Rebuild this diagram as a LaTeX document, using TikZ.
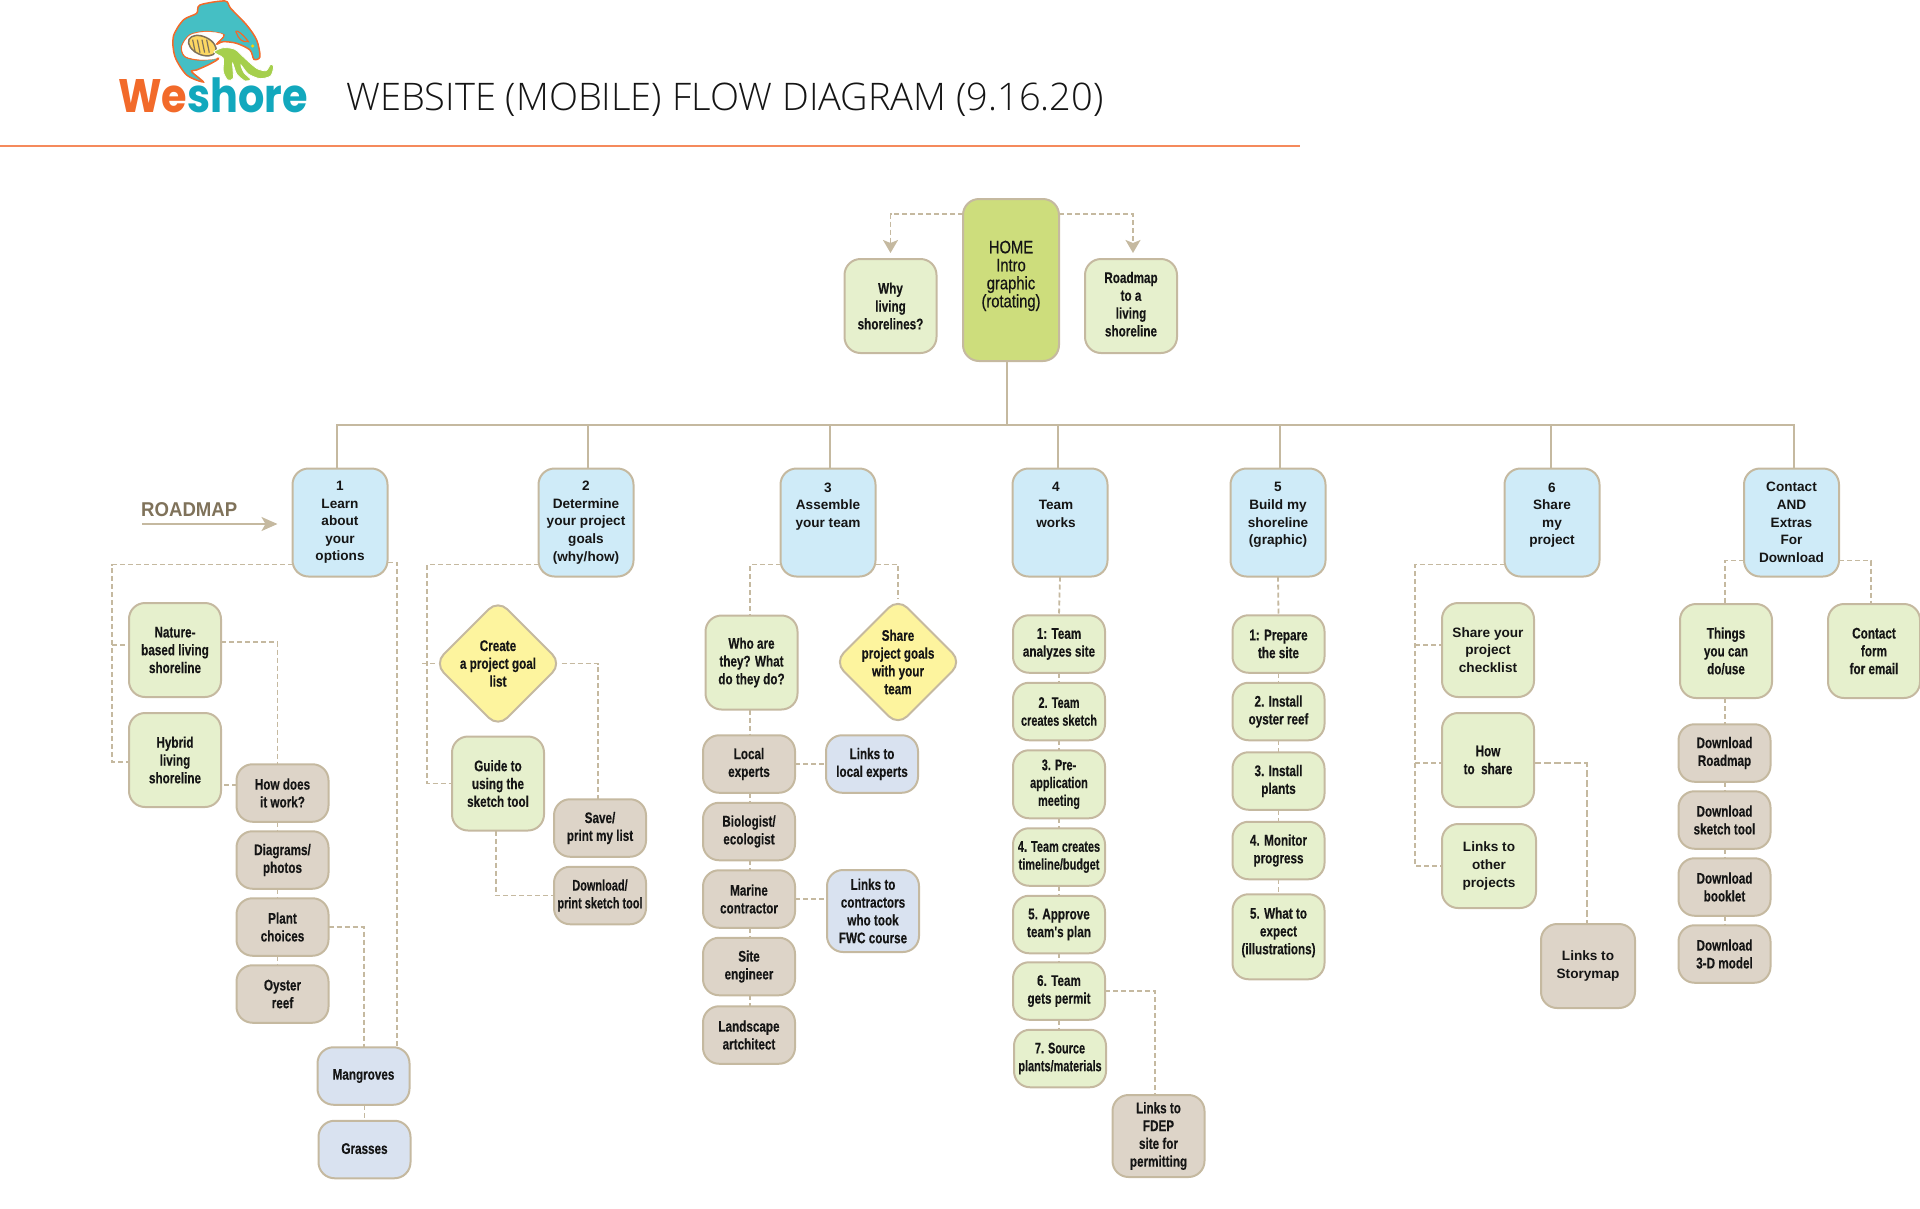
\documentclass[tikz,border=0pt]{standalone}
\usepackage{fontspec}
\usepackage{xcolor}
\usetikzlibrary{arrows.meta, positioning, shapes.geometric, backgrounds}
\setmainfont{Liberation Sans}
\newfontfamily\condfont[FakeStretch=0.76,FakeBold=0.25]{Liberation Sans Bold}
\newfontfamily\tightfont[FakeStretch=0.71,FakeBold=0.25]{Liberation Sans Bold}
\newfontfamily\widefont{Liberation Sans Bold}
\newfontfamily\homefont[FakeStretch=0.82,FakeBold=0.5]{Liberation Sans}
\newfontfamily\titlefont{Open Sans Light}
\newfontfamily\brandfont[FakeStretch=0.88]{Poppins Bold}
\newfontfamily\mapfont[FakeStretch=0.93]{Liberation Sans Bold}
\definecolor{linetan}{HTML}{C5B9A0}
\definecolor{skyfill}{HTML}{CFEBF8}
\definecolor{leaffill}{HTML}{E6F0CD}
\definecolor{homefill}{HTML}{CDDD7C}
\definecolor{sandfill}{HTML}{DDD4C8}
\definecolor{mistfill}{HTML}{D9E2F0}
\definecolor{sunfill}{HTML}{FDF49E}
\definecolor{inkblack}{HTML}{151515}
\definecolor{brandorange}{HTML}{F26A2A}
\definecolor{brandteal}{HTML}{12A8BD}
\definecolor{fishteal}{HTML}{45BFC4}
\definecolor{weedgreen}{HTML}{A5CF4C}
\definecolor{rulered}{HTML}{F58A5C}
\definecolor{maptext}{HTML}{7F725A}
\tikzset{
  flowbox/.style={rectangle, rounded corners=16pt, draw=linetan, line width=2pt,
    inner sep=0pt, outer sep=0pt, align=center, text=inkblack, minimum width=92pt,
    font=\fontsize{15.4}{17.8}\selectfont\condfont},
  widetext/.style={font=\fontsize{13.6}{17.6}\selectfont\widefont},
  tighttext/.style={font=\fontsize{15.4}{17.8}\selectfont\tightfont},
  stepblue/.style={flowbox, widetext, fill=skyfill, minimum width=95pt, minimum height=108pt},
  leafbox/.style={flowbox, fill=leaffill, minimum height=94pt},
  stepleaf/.style={flowbox, fill=leaffill, minimum height=57.5pt},
  sandbox/.style={flowbox, fill=sandfill, minimum height=57.5pt},
  mistbox/.style={flowbox, fill=mistfill, minimum height=57.5pt},
  sunbox/.style={flowbox, shape=diamond, fill=sunfill, rounded corners=13pt, inner sep=-14pt,
    minimum width=127pt, minimum height=127pt},
  treeline/.style={draw=linetan, line width=2pt},
  dashline/.style={draw=linetan, line width=1.8pt, dash pattern=on 5pt off 3pt},
  flowtip/.style={-{Stealth[length=13pt, width=15pt, inset=3pt]}},
}
\begin{document}
\begin{tikzpicture}[x=1pt, y=-1pt, node distance=9.5pt]
  \useasboundingbox (0,0) rectangle (1920,1208);

  % logo
  \begin{scope}[shift={(60,0)}, scale=0.3333]
    \draw[fill=fishteal, draw=brandorange, line width=1.5pt] plot[smooth cycle, tension=0.5] coordinates {
      (430,246) (380,225) (345,170) (340,110) (370,60) (410,40) (420,15) (495,3) (512,25)
      (560,75) (590,120) (600,170) (582,178) (570,150) (530,130) (490,125) (470,132) (492,105)
      (440,95) (390,105) (365,140) (375,170) (420,180) (475,175) (450,192) (410,210) (395,215)};
    \draw[fill=white, draw=white] plot[smooth cycle, tension=0.5] coordinates {
      (488,104) (440,96) (391,106) (367,140) (377,168) (420,178) (470,174) (460,150) (468,128)};
    \draw[fill=yellow!55!orange!60, draw=maptext, line width=1.5pt, rotate around={-25:(427,137)}]
      (427,137) ellipse (44 and 27);
    \foreach \sx in {398,412,426,440} \draw[maptext, line width=1.2pt] (\sx,119) -- (\sx+8,158);
    \draw[fill=weedgreen, draw=white, line width=0.8pt] plot[smooth cycle, tension=0.45] coordinates {
      (462,155) (490,143) (525,148) (555,175) (590,205) (618,212) (632,193) (641,200) (632,228)
      (600,236) (565,222) (543,195) (552,218) (572,238) (555,243) (530,222) (518,190) (520,235)
      (503,240) (490,215) (490,175) (475,165)};
    \draw[brandorange, line width=1.2pt] (530,100) .. controls (520,85) and (545,95) .. (565,125)
      .. controls (545,128) and (535,115) .. (530,100);
    \draw[fill=yellow!70!orange, draw=none] (578,138) circle (5);
  \end{scope}
  \node[anchor=base west, inner sep=0pt, font=\fontsize{47}{50}\selectfont\brandfont] (brand) at (118,112)
    {\textcolor{brandorange}{We}\textcolor{brandteal}{shore}};
  \node[anchor=base west, inner sep=0pt, text=inkblack, font=\fontsize{38}{42}\selectfont\titlefont] (title) at (346,110)
    {WEBSITE (MOBILE) FLOW DIAGRAM (9.16.20)};
  \coordinate (ruleleft) at (0,146);
  \coordinate (ruleright) at (1300,146);
  \draw[rulered, line width=1.5pt] (ruleleft) -- (ruleright);

  % top row
  \node[flowbox, fill=homefill, minimum width=96pt, minimum height=162pt,
    font=\fontsize{18}{18}\selectfont\homefont] (home) at (1011,280) {HOME\\Intro\\graphic\\(rotating)\\[-6pt]~};
  \node[leafbox] (why) at (890.5,306) {Why\\living\\shorelines?};
  \node[leafbox] (roadto) at (1131,306) {Roadmap\\to a\\living\\shoreline\\[-14pt]~};

  % column heads
  \node[stepblue] (learn) at (340,522.5) {1\\Learn\\about\\your\\options};
  \node[stepblue] (goals) at (586,522.5) {2\\Determine\\your project\\goals\\(why/how)};
  \node[stepblue] (team) at (828,522.5) {3\\Assemble\\your team\\~\\~};
  \node[stepblue] (works) at (1060,522.5) {\hspace*{-8pt}4\\\hspace*{-8pt}Team\\\hspace*{-8pt}works\\~\\~};
  \node[stepblue] (build) at (1278,522.5) {5\\Build my\\shoreline\\(graphic)\\~};
  \node[stepblue] (share) at (1552,522.5) {6\\Share\\my\\project\\~};
  \node[stepblue] (contact) at (1791.5,522.5) {Contact\\AND\\Extras\\For\\Download};

  % column 1
  \node[leafbox] (nature) at (175,650) {Nature-\\based living\\shoreline};
  \node[leafbox, below=16pt of nature] (hybrid) {Hybrid\\living\\shoreline};
  \node[sandbox] (howwork) at (282.5,793) {How does\\it work?};
  \node[sandbox, below=of howwork] (diagrams) {Diagrams/\\photos};
  \node[sandbox, below=of diagrams] (plantch) {Plant\\choices};
  \node[sandbox, below=of plantch] (oyster) {Oyster\\reef};
  \node[mistbox] (mangroves) at (363.5,1076) {\raisebox{-2pt}{Mangroves}};
  \node[mistbox, below=16pt of mangroves, xshift=1pt] (grasses) {\raisebox{2pt}{Grasses}};

  % column 2
  \node[sunbox] (golist) at (498,663.5) {Create\\a project goal\\list};
  \node[leafbox] (guide) at (498,783.5) {Guide to\\using the\\sketch tool};
  \node[sandbox] (savelist) at (600,828) {Save/\\print my list};
  \node[sandbox, tighttext, below=10pt of savelist] (printtool) {Download/\\print sketch tool};

  % column 3
  \node[leafbox] (whoare) at (751.5,662.5) {Who are\\they? What\\do they do?};
  \node[sunbox] (sharegoals) at (898,662) {Share\\project goals\\with your\\team};
  \node[sandbox] (local) at (749,764) {Local\\experts};
  \node[mistbox] (linklocal) at (872,764) {Links to\\local experts};
  \node[sandbox, below=10pt of local] (biologist) {Biologist/\\ecologist};
  \node[sandbox, below=10pt of biologist] (marine) {Marine\\contractor};
  \node[sandbox, below=10pt of marine] (siteeng) {Site\\engineer};
  \node[sandbox, below=11pt of siteeng] (landscape) {Landscape\\artchitect};
  \node[mistbox, minimum height=82pt] (linkfwc) at (873,911) {Links to\\contractors\\who took\\FWC course};

  % column 4
  \node[stepleaf] (analyze) at (1059,644) {1: Team\\analyzes site};
  \node[stepleaf, tighttext, below=10pt of analyze] (sketch) {2. Team\\creates sketch};
  \node[stepleaf, below=10pt of sketch, minimum height=68pt, tighttext] (preapp) {3. Pre-\\application\\meeting};
  \node[stepleaf, tighttext, below=10pt of preapp] (timeline) {4. Team creates\\timeline/budget};
  \node[stepleaf, below=10pt of timeline] (approve) {5. Approve\\team's plan};
  \node[stepleaf, below=9pt of approve] (permit) {6. Team\\gets permit};
  \node[stepleaf, tighttext, below=10pt of permit, xshift=1pt] (source) {7. Source\\plants/materials};
  \node[sandbox, minimum height=82pt] (fdep) at (1158.5,1136) {Links to\\FDEP\\site for\\permitting};

  % column 5
  \node[stepleaf] (prepare) at (1278.5,644) {1: Prepare\\the site};
  \node[stepleaf, below=10pt of prepare] (reef) {2. Install\\oyster reef};
  \node[stepleaf, below=12pt of reef] (plants) {3. Install\\plants};
  \node[stepleaf, below=12pt of plants] (monitor) {4. Monitor\\progress};
  \node[stepleaf, below=15pt of monitor, minimum height=85pt] (expect) {5. What to\\expect\\(illustrations)\\[-6pt]~};

  % column 6
  \node[leafbox, widetext] (checklist) at (1488,650) {Share your\\project\\checklist};
  \node[leafbox] (howshare) at (1488,760) {How\\to\ \ share};
  \node[leafbox, widetext, minimum height=84pt, minimum width=94pt] (linkother) at (1489,866) {Links to\\other\\projects};
  \node[sandbox, widetext, minimum height=84pt, minimum width=94pt] (storymap) at (1588,966) {Links to\\Storymap};

  % column 7
  \node[leafbox] (things) at (1726,651) {Things\\you can\\do/use};
  \node[leafbox] (form) at (1874,651) {Contact\\form\\for email};
  \node[sandbox] (dlroad) at (1724.5,753) {Download\\Roadmap};
  \node[sandbox, below=of dlroad] (dlsketch) {Download\\sketch tool};
  \node[sandbox, below=of dlsketch] (dlbook) {Download\\booklet};
  \node[sandbox, below=of dlbook] (dlmodel) {Download\\3-D model};

  % roadmap arrow
  \node[anchor=base west, inner sep=0pt, text=maptext, font=\fontsize{20}{22}\selectfont\mapfont] (maplabel) at (141,516) {ROADMAP};
  \coordinate (mapstart) at (142,524);
  \draw[treeline, -{Stealth[length=16pt, width=14pt, inset=4pt]}] (mapstart) -- ([xshift=-15pt,yshift=-1.5pt]learn.west);

  \begin{scope}[on background layer]
    % solid tree
    \coordinate (bus) at (1007,425);
    \draw[treeline] ([xshift=-4pt]home.south) -- (bus);
    \foreach \n/\dx in {learn/-3, goals/2, team/2, works/-2, build/2, share/-1, contact/2.5}
      \draw[treeline] (bus) -| ([xshift=\dx pt]\n.north);

    % home
    \draw[dashline, flowtip] ([yshift=-15pt]home.north west) -| ([yshift=6pt]why.north);
    \draw[dashline, flowtip] ([yshift=-15pt]home.north east) -| ([xshift=2pt,yshift=6pt]roadto.north);

    % column 1
    \draw[dashline] ([yshift=12pt]learn.south west) -| ([xshift=-17pt,yshift=-2pt]hybrid.west) -- ([yshift=-2pt]hybrid.west);
    \draw[dashline] ([xshift=-17pt,yshift=5pt]nature.west) -- ([yshift=5pt]nature.west);
    \draw[dashline] ([yshift=8pt]nature.east) -| ([xshift=-5pt]howwork.north);
    \draw[dashline] ([yshift=8pt]howwork.west) -- ([yshift=8pt]howwork.west -| hybrid.east);
    \foreach \a/\b in {howwork/diagrams, diagrams/plantch, plantch/oyster}
      \draw[dashline] ([xshift=-5pt]\a.south) -- ([xshift=-5pt]\b.north);
    \draw[dashline] (plantch.east) -| ([xshift=0.5pt]mangroves.north);
    \draw[dashline] ([yshift=14pt]learn.south east) -| ([xshift=33.5pt]mangroves.north);
    \draw[dashline] ([xshift=1pt]mangroves.south) -- (grasses.north);

    % column 2
    \draw[dashline] ([yshift=12pt]goals.south west) -| ([xshift=-25pt]guide.west) -- (guide.west);
    \draw[dashline] ([xshift=-12.5pt]golist.west) -- (golist.west);
    \draw[dashline] (golist.east) -| ([xshift=-2pt]savelist.north);
    \draw[dashline] ([xshift=-2pt]guide.south) |- (printtool.west);

    % column 3
    \draw[dashline] ([yshift=12pt]team.south west) -| ([xshift=-1.5pt]whoare.north);
    \draw[dashline] ([yshift=12pt]team.south east) -| (sharegoals.north);
    \draw[dashline] ([xshift=-1.5pt]whoare.south) -- ([xshift=1pt]local.north);
    \foreach \a/\b in {local/biologist, biologist/marine, marine/siteeng, siteeng/landscape}
      \draw[dashline] ([xshift=1pt]\a.south) -- ([xshift=1pt]\b.north);
    \draw[dashline] (local.east) -- (linklocal.west);
    \draw[dashline] (marine.east) -- (marine.east -| linkfwc.west);

    % column 4
    \draw[dashline] (works.south) -- (analyze.north);
    \foreach \a/\b in {analyze/sketch, sketch/preapp, preapp/timeline, timeline/approve, approve/permit}
      \draw[dashline] (\a.south) -- (\b.north);
    \draw[dashline] (permit.south) -- (permit.south |- source.north);
    \draw[dashline] (permit.east) -| ([xshift=-3.5pt]fdep.north);

    % column 5
    \draw[dashline] (build.south) -- (prepare.north);
    \foreach \a/\b in {prepare/reef, reef/plants, plants/monitor, monitor/expect}
      \draw[dashline] (\a.south) -- (\a.south |- \b.north);

    % column 6
    \draw[dashline] ([yshift=12pt]share.south west) -| ([xshift=-27pt]linkother.west) -- (linkother.west);
    \draw[dashline] ([xshift=-27pt,yshift=5pt]checklist.west) -- ([yshift=5pt]checklist.west);
    \draw[dashline] ([xshift=-27pt,yshift=-3pt]howshare.west) -- ([yshift=-3pt]howshare.west);
    \draw[draw=linetan, line width=2.4pt, dash pattern=on 7pt off 3pt] ([yshift=-3pt]howshare.east) -| ([xshift=-1pt]storymap.north);

    % column 7
    \draw[dashline] ([yshift=16pt]contact.south west) -| ([xshift=-1pt]things.north);
    \draw[dashline] ([yshift=16pt]contact.south east) -| ([xshift=-3pt]form.north);
    \draw[dashline] ([xshift=-1pt]things.south) -- ([xshift=0.5pt]dlroad.north);
    \foreach \a/\b in {dlroad/dlsketch, dlsketch/dlbook, dlbook/dlmodel}
      \draw[dashline] ([xshift=0.5pt]\a.south) -- ([xshift=0.5pt]\b.north);
  \end{scope}
\end{tikzpicture}
\end{document}
